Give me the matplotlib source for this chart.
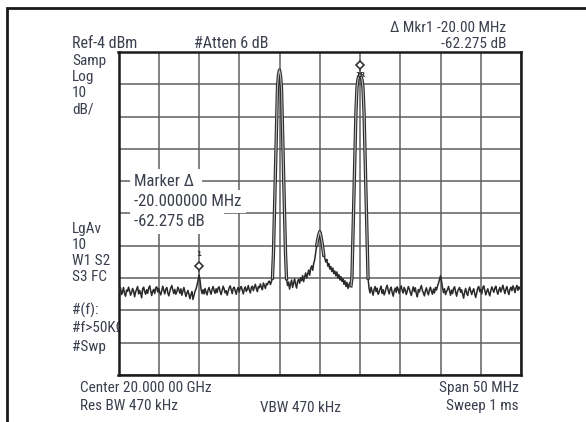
import numpy as np
import matplotlib
matplotlib.use("Agg")
import matplotlib.pyplot as plt
from matplotlib.patches import Rectangle
from matplotlib.transforms import ScaledTranslation

#Screen settings
span_mhz = 50
ref_dbm = -4
db_per_div = 10
n_div = 10

#Trace : 401 sweep points, -25 MHz .. +25 MHz around center (dBm)
floor_left = [
    -77.5, -78.4, -77.0, -79.1, -78.2, -76.9, -78.8, -79.6, -77.7, -78.1, -76.8, -77.9, -79.3, -78.5, -77.2, -78.0, -79.8, -78.3, -77.4, -76.6,
    -78.9, -77.8, -78.6, -80.1, -77.3, -76.8, -78.2, -79.0, -77.6, -78.7, -77.1, -76.4, -77.9, -79.4, -78.0, -77.5, -78.8, -77.0, -76.7, -78.3,
    -77.2, -78.5, -79.2, -77.9, -76.5, -77.8, -78.9, -77.4, -76.9, -78.6, -79.5, -78.1, -77.0, -76.3, -77.7, -78.8, -77.5, -79.0, -78.2, -76.8,
    -77.6, -78.7, -77.3, -79.3, -78.0, -76.9, -78.4, -79.7, -78.6, -77.8, -79.1, -80.4, -79.0, -78.2, -80.6, -79.3, -78.1, -77.4, -76.2, -74.8,
    -73.0, -74.6, -77.4, -78.8, -77.6, -78.9, -77.2, -78.4, -79.2, -77.7, -76.9, -78.1, -79.0, -77.5, -76.6, -77.9, -78.7, -77.3, -78.5, -77.0,
    -76.7, -78.2, -79.1, -77.8, -76.5, -77.4, -78.6, -77.9, -79.3, -78.1, -77.0, -76.4, -77.6, -78.8, -77.2, -76.8, -78.0, -79.0, -77.5, -76.9,
    -78.3, -77.1, -76.6, -77.8, -78.9, -77.4, -76.7, -78.1, -77.5, -76.3, -77.7, -78.6, -77.0, -76.5, -77.9, -76.8, -75.9, -77.3, -78.2, -76.6,
    -77.0, -75.8, -76.9, -77.6, -75.5, -76.4, -77.2, -75.7, -76.1, -75.2, -74.9, -76.0, -75.1,
]
peak_lo = [-74.0, -66.3, -53.4, -40.6, -27.6, -14.8, -11.1, -9.6, -11.3, -15.2, -28.0, -41.0, -53.8, -66.6, -74.2]
mid_skirt = [
    -76.3, -75.2, -77.4, -75.8, -74.6, -76.9, -75.5, -74.2, -76.0, -77.1, -75.0, -74.4,
    -75.6, -73.9, -74.8, -73.2, -75.1, -73.6, -72.4, -74.0, -72.8, -71.5, -73.1, -71.0, -70.2, -71.6, -69.4, -68.3, -66.0, -63.8, -62.0, -60.6,
    -59.6,
    -60.8, -62.5, -64.6, -66.9, -67.8, -69.0, -68.2, -70.3, -69.5, -71.2, -70.4, -72.0, -70.9, -72.6, -71.8, -73.3, -72.1, -74.0, -72.9, -74.6,
    -73.5, -75.0, -74.2, -75.9, -74.8, -76.6, -75.3, -77.2, -76.0, -75.4,
]
peak_hi = [-76.4, -73.8, -60.9, -48.0, -35.1, -22.2, -14.9, -12.4, -11.4, -10.9, -11.5, -12.6, -15.2, -22.6, -35.5, -48.4, -61.2, -74.0]
floor_right = [
    -77.2, -78.6, -76.8, -78.0, -79.3, -77.5, -76.6, -78.2, -77.1, -79.0, -78.4,
    -77.3, -76.5, -78.7, -77.6, -79.2, -78.3, -77.0, -76.2, -77.8, -78.9, -77.4, -76.8, -78.5, -79.6, -77.9, -77.1, -78.4, -76.7, -77.5, -78.8,
    -77.2, -76.4, -77.9, -78.6, -76.9, -77.7, -79.1, -78.0, -76.6, -77.3, -78.5, -79.4, -77.8, -76.7, -78.2, -77.0, -78.9, -79.8, -77.6, -78.3,
    -77.1, -76.3, -77.8, -78.7, -79.5, -77.9, -77.0, -78.4, -79.2, -77.6, -76.8, -78.1, -79.0, -77.4, -78.6, -76.9, -77.7, -76.5, -75.6, -74.5,
    -73.3, -74.9, -77.0, -78.5, -77.3, -79.1, -78.2, -77.5, -76.6, -78.0, -79.3, -77.7, -78.8, -77.2, -76.7, -78.3, -79.6, -78.1, -77.4, -76.9,
    -78.4, -77.6, -79.0, -80.2, -78.3, -77.2, -78.7, -79.4, -77.8, -76.8, -77.9, -79.1, -78.0, -77.3, -78.8, -80.0, -78.5, -77.1, -76.6, -78.2,
    -77.5, -78.9, -77.0, -76.4, -77.8, -79.2, -78.1, -77.3, -78.6, -79.5, -77.9, -76.7, -77.6, -78.4, -77.1, -76.5, -78.0, -79.0, -77.7, -76.9,
    -78.3, -77.2, -76.2, -77.6, -78.8, -77.4, -76.6, -78.1, -79.1, -77.5, -76.8, -77.9, -76.4, -77.2, -78.5, -77.0, -76.3, -77.8, -76.7, -77.4,
    -76.9,
]
trace_dbm = np.array(floor_left + peak_lo + mid_skirt + peak_hi + floor_right)
trace_mhz = np.linspace(-span_mhz / 2, span_mhz / 2, len(trace_dbm))

#Markers (offset MHz, level dBm, label)
marker_mhz = [-15.0, 5.0]
marker_dbm = [-73.0, -10.7]
marker_labels = ["1", "1R"]

#Annotation texts
left_top = ["Samp", "Log", "10", "dB/"]
left_mid = ["LgAv", "10", "W1 S2", "S3 FC"]
left_low = ["#(f):", "#f>50KΩ", "#Swp"]
marker_box = ["Marker Δ ", "-20.000000 MHz", "-62.275 dB    "]

W, H = 586, 422
FONT = ["Roboto Condensed", "Roboto", "DejaVu Sans"]
TXT = "#3b3f4e"
FS = 11


def px(x, y):
    return x / W, 1 - y / H


def label(x, y, s, **kw):
    kw.setdefault("fontsize", FS)
    fig.text(*px(x, y), s, family=FONT, color=TXT, va="center", **kw)


fig = plt.figure(figsize=(W / 100, H / 100), dpi=100)
fig.patch.set_facecolor("white")

#outer screen frame (right and bottom edges fall outside the shot)
fig.patches.append(Rectangle(px(6.5, 440), 600 / W, 432 / H, transform=fig.transFigure,
                             fill=False, lw=2, ec="#1a1a1a", zorder=5))

x0, y0 = px(118.5, 375)
ax = fig.add_axes([x0, y0, 402.5 / W, 323 / H])
ax.set_facecolor("white")
ax.set_xlim(-span_mhz / 2, span_mhz / 2)
ax.set_ylim(ref_dbm - n_div * db_per_div, ref_dbm)
ax.set_xticks(np.linspace(-span_mhz / 2, span_mhz / 2, n_div + 1))
ax.set_yticks(np.arange(ref_dbm - n_div * db_per_div, ref_dbm + 1, db_per_div))
ax.tick_params(length=0, labelbottom=False, labelleft=False)
ax.grid(True, color="#5f5f5f", lw=1.1)
for s in ax.spines.values():
    s.set_color("#1a1a1a")
    s.set_linewidth(1.8)

ax.plot(trace_mhz, trace_dbm, color="#2a2a2a", lw=1.1, zorder=3)

#the big signals show up as an outlined (double) stroke on the screen
i1 = len(floor_left)
i2 = i1 + len(peak_lo)
i3 = i2 + len(mid_skirt)
i4 = i3 + len(peak_hi)
for sl in [slice(i1, i2), slice(i2 + 29, i2 + 37), slice(i3, i4)]:
    ax.plot(trace_mhz[sl], trace_dbm[sl], color="#2a2a2a", lw=2.4, zorder=3,
            solid_joinstyle="round")
    ax.plot(trace_mhz[sl], trace_dbm[sl], color="#bdbdbd", lw=0.8, zorder=3,
            solid_joinstyle="round")

#markers: diamond just above the point, label tag
lift = ScaledTranslation(0, 6.5 / 72, fig.dpi_scale_trans)
for f, lvl, lab in zip(marker_mhz, marker_dbm, marker_labels):
    ax.annotate("", xy=(f, lvl), xytext=(0, 6), textcoords="offset points",
                arrowprops=dict(arrowstyle="-", color="#333333", lw=0.8), zorder=4)
    ax.plot([f], [lvl], marker="D", ms=4.5, mfc="white", mec="#333333", mew=1.2,
            linestyle="none", zorder=5, transform=ax.transData + lift)
    dy = -1 if lab == "1R" else 15
    ax.annotate(lab, xy=(f, lvl), xytext=(0, dy), textcoords="offset points",
                ha="center", va="center", fontsize=5, fontweight="bold", color="#333333", zorder=6)

#header
label(72, 44, "Ref-4 dBm", fontsize=FS + 0.5)
label(194, 44, "#Atten 6 dB", fontsize=FS + 0.5)
label(506.5, 27.5, "Δ Mkr1 -20.00 MHz", ha="right")
label(506.5, 44, "-62.275 dB", ha="right")

#left column
for i, t in enumerate(left_top):
    label(72, 60.5 + i * 16.2, t)
for i, t in enumerate(left_mid):
    label(72, 229 + i * 16, t)
for i, t in enumerate(left_low):
    label(72, 310 + i * 18.3, t, zorder=-1)

#marker readout box
for i, t in enumerate(marker_box):
    label(134, 181 + i * 20.5, t, fontsize=FS + 1,
          bbox=dict(boxstyle="square,pad=0.25", fc="white", ec="none"))

#footer
label(80, 388, "Center 20.000 00 GHz")
label(80, 406, "Res BW 470 kHz")
label(260, 408, "VBW 470 kHz")
label(518.5, 388, "Span 50 MHz", ha="right")
label(518.5, 406, "Sweep 1 ms", ha="right")

fig.savefig("out.png", dpi=100, facecolor="white")
